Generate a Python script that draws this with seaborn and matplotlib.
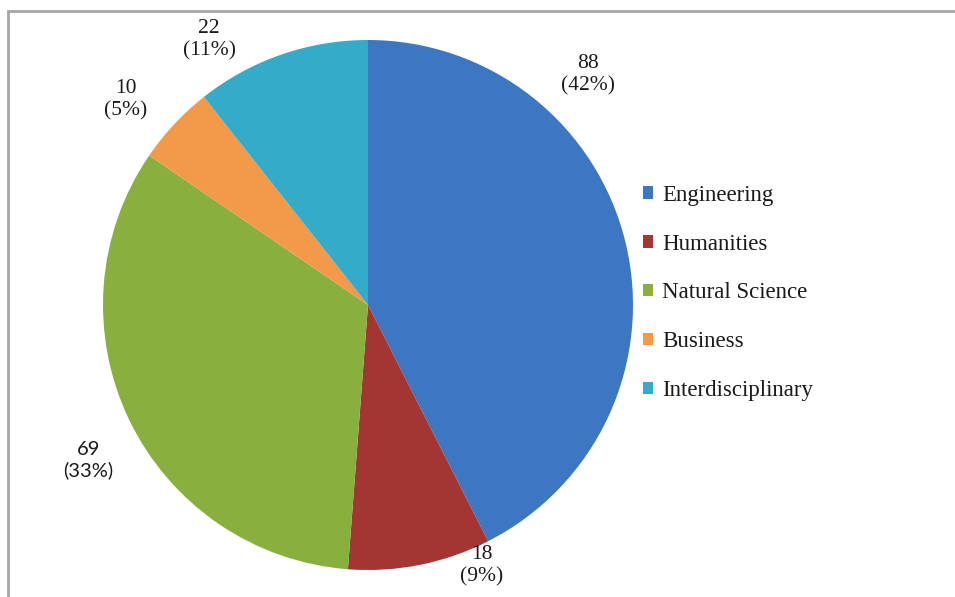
import numpy as np
import matplotlib
matplotlib.use("Agg")
import matplotlib.pyplot as plt
import matplotlib.patches as mpatches
import seaborn as sns

# data
categories = ["Engineering", "Humanities", "Natural Science", "Business", "Interdisciplinary"]
counts = [88, 18, 69, 10, 22]
pct_labels = ["42%", "9%", "33%", "5%", "11%"]
colors = ["#3D77C2", "#A33532", "#89AF3E", "#F3994A", "#35ABCA"]

# label positions in pie units (radius = 1), as Excel placed them
label_pos = [(0.83, 0.87), (0.43, -0.985), (-1.055, -0.585), (-0.915, 0.775), (-0.60, 1.0)]

sns.set_theme(style="white")
plt.rcParams["font.family"] = ["Liberation Serif", "DejaVu Serif"]

fig = plt.figure(figsize=(9.55, 5.97), dpi=100)
cx, cy, r = 368, 305, 265
ax = fig.add_axes([(cx - r) / 955, (597 - cy - r) / 597, 2 * r / 955, 2 * r / 597])

wedges, _ = ax.pie(counts, colors=colors, startangle=90, counterclock=False,
                   radius=1, wedgeprops=dict(linewidth=0))
ax.set_xlim(-1, 1)
ax.set_ylim(-1, 1)
ax.set_aspect("equal")
ax.axis("off")

for i, (n, p) in enumerate(zip(counts, pct_labels)):
    x, y = label_pos[i]
    if categories[i] == "Natural Science":
        fam, fs = ["Lato", "DejaVu Sans"], 14.5
    else:
        fam, fs = ["Liberation Serif"], 15.5
    ax.text(x, y, f"{n}\n({p})", ha="center", va="center", fontsize=fs,
            color="#1a1a1a", family=fam, linespacing=1.2)

handles = [mpatches.Patch(facecolor=c, edgecolor="none") for c in colors]
fig.legend(handles, categories, loc="center left", bbox_to_anchor=(643 / 955, 1 - 293 / 597),
           frameon=False, fontsize=16.5, handlelength=0.45, handleheight=0.45,
           handletextpad=0.4, labelspacing=1.22, borderaxespad=0, borderpad=0,
           labelcolor="#1a1a1a")

# outer chart border (partially cropped in the original)
fig.add_artist(mpatches.Rectangle((8 / 955, -0.1), 1.5, 1 - 10.5 / 597 + 0.1, fill=False,
                                  edgecolor="#A6A6A6", lw=2, transform=fig.transFigure))

fig.savefig("out.png", dpi=100)
